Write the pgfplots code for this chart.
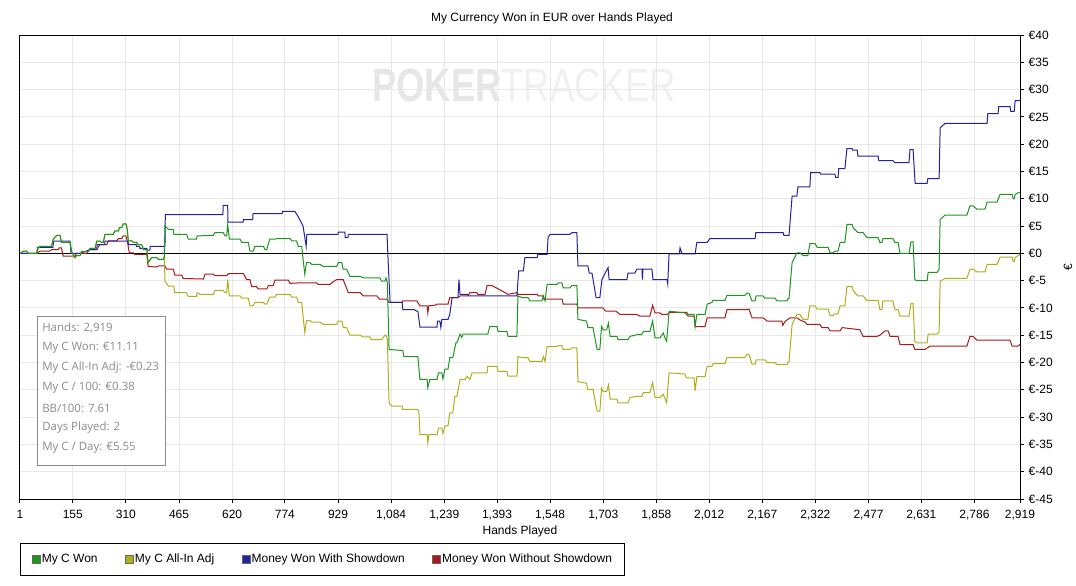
\documentclass[border=0pt]{standalone}
\usepackage{pgfplots}
\pgfplotsset{compat=1.18}
\usepackage{fontspec}
\setmainfont{Liberation Sans}
\newfontfamily\statsfont{Open Sans}
\definecolor{cgreen}{RGB}{30,150,30}
\definecolor{colive}{RGB}{175,175,30}
\definecolor{cblue}{RGB}{35,35,160}
\definecolor{cred}{RGB}{170,25,25}
\definecolor{gridc}{RGB}{232,232,232}
\definecolor{wm1}{RGB}{230,230,230}
\definecolor{wm2}{RGB}{240,240,240}
\definecolor{statc}{RGB}{140,140,140}
\begin{document}
\begin{tikzpicture}[x=0.75pt,y=-0.75pt]
\useasboundingbox (0,0) rectangle (1076,586);
% watermark
\node[anchor=west, xscale=0.78, inner sep=0pt] at (372,85) {\fontsize{35}{35}\selectfont{\color{wm1}\bfseries POKER}{\color{wm2}TRACKER}};
\begin{axis}[
  at={(15pt,-374.25pt)}, anchor=south west,
  scale only axis, width=750pt, height=348pt,
  xmin=1, xmax=2919, ymin=-45, ymax=40,
  axis line style={black, line width=0.75pt},
  xtick={1,155,310,465,620,774,929,1084,1239,1393,1548,1703,1858,2012,2167,2322,2477,2631,2786,2919},
  xticklabels={1,155,310,465,620,774,929,{1,084},{1,239},{1,393},{1,548},{1,703},{1,858},{2,012},{2,167},{2,322},{2,477},{2,631},{2,786},{2,919}},
  ytick={-45,-40,...,40},
  yticklabels={€-45,€-40,€-35,€-30,€-25,€-20,€-15,€-10,€-5,€0,€5,€10,€15,€20,€25,€30,€35,€40},
  xtick pos=left, ytick pos=right, yticklabel pos=right,
  tick align=outside, major tick length=3pt,
  tick style={black, line width=0.75pt},
  grid=major, major grid style={draw=gridc, line width=0.75pt},
  tick label style={font=\fontsize{9}{10}\selectfont},
  xticklabel style={yshift=-2pt},
  title={My Currency Won in EUR over Hands Played},
  title style={at={(axis description cs:0.532,1.0388)}, anchor=center, yshift=-6.75pt, font=\fontsize{9}{10}\selectfont},
  xlabel={Hands Played},
  xlabel style={at={(axis description cs:0.5,-0.069)}, anchor=center, font=\fontsize{9}{10}\selectfont},
  ylabel={€},
  ylabel style={at={(axis description cs:1.048,0.5)}, anchor=center, font=\fontsize{9}{10}\selectfont},
  reverse legend,
  legend columns=4,
  legend image code/.code={\filldraw[#1, draw=black!60, line width=0.5pt] (0pt,-3pt) rectangle (6pt,3pt);},
  legend style={at={(axis description cs:0,-0.095)}, anchor=north west, draw=black, line width=0.75pt,
    font=\fontsize{9}{10}\selectfont, inner xsep=8.5pt, inner ysep=5.8pt,
    nodes={inner xsep=1pt},
    /tikz/every even column/.append style={column sep=19.5pt}},
  every axis plot/.append style={line width=0.75pt},
]
\addplot[black, forget plot] coordinates {(1,0) (2919,0)};
\addplot[cred] coordinates {
(1,0) (50,0) (59,0.4) (88,0.4) (93,0.7) (113,0.7) (115,1.0) (122,1.0) (127,-0.5) (161,-0.5) (166,0) (195,0) (205,0.7) (225,0.7) (234,1.6) (254,1.6) (259,2.3) (283,2.3) (288,2.7) (298,2.7) (302,3.2) (310,3.2) (314,2.3) (320,0.1) (332,0.1) (336,-0.2) (371,-0.2) (375,-2.4) (400,-2.5) (405,-2.3) (424,-2.3) (429,-2.9) (448,-2.9) (453,-4.0) (473,-4.0) (477,-4.6) (536,-4.7) (541,-3.8) (565,-3.8) (570,-4.1) (604,-4.1) (609,-3.7) (653,-3.7) (662,-4.8) (672,-4.8) (677,-6.1) (691,-6.1) (696,-6.5) (721,-6.5) (726,-5.9) (740,-5.9) (745,-4.9) (784,-4.9) (789,-5.5) (818,-5.4) (867,-5.4) (871,-5.7) (905,-5.7) (915,-5.2) (925,-4.8) (944,-4.8) (959,-7.2) (993,-7.2) (1003,-7.8) (1042,-7.8) (1051,-8.4) (1071,-8.4) (1078,-9.0) (1116,-9.0) (1118,-8.7) (1159,-8.7) (1168,-9.6) (1189,-9.6) (1191,-10.9) (1194,-9.6) (1212,-9.5) (1218,-9.3) (1250,-9.3) (1255,-8.1) (1279,-8.1) (1285,-7.8) (1308,-7.8) (1314,-7.2) (1334,-7.2) (1337,-7.5) (1358,-7.5) (1364,-5.9) (1378,-5.9) (1399,-6.6) (1425,-7.5) (1451,-7.2) (1454,-7.5) (1510,-7.5) (1513,-7.8) (1527,-7.8) (1530,-8.4) (1583,-8.4) (1586,-9.3) (1626,-9.3) (1629,-10.0) (1702,-10.0) (1710,-10.6) (1740,-10.6) (1752,-11.2) (1801,-11.2) (1810,-11.5) (1839,-11.5) (1847,-9.5) (1854,-10.9) (1868,-10.9) (1874,-11.2) (1889,-11.2) (1898,-10.8) (1947,-10.8) (1950,-11.5) (1968,-11.5) (1971,-13.4) (2000,-13.4) (2006,-11.8) (2058,-11.8) (2064,-10.3) (2122,-10.3) (2128,-10.2) (2137,-11.8) (2169,-11.8) (2181,-12.4) (2224,-12.4) (2227,-13.2) (2233,-12.5) (2248,-11.8) (2268,-11.8) (2277,-12.2) (2292,-12.6) (2297,-13.0) (2335,-13.0) (2341,-13.6) (2359,-13.6) (2365,-14.2) (2394,-14.2) (2400,-13.6) (2452,-14.0) (2461,-15.2) (2502,-15.2) (2510,-15.0) (2525,-14.2) (2534,-14.2) (2540,-15.2) (2563,-15.2) (2569,-16.7) (2607,-16.7) (2612,-17.6) (2642,-17.6) (2656,-17.0) (2764,-17.0) (2773,-15.2) (2782,-15.2) (2793,-15.9) (2890,-15.9) (2896,-17.0) (2913,-17.0) (2919,-16.7)
};
\addlegendentry{Money Won Without Showdown}
\addplot[cblue] coordinates {
(1,0) (50,0) (52,1.1) (97,1.1) (99,2.25) (147,2.25) (150,0) (176,0) (190,0.3) (205,0.7) (225,0.7) (226,1.6) (248,1.6) (249,2.25) (316,2.25) (318,1.6) (340,1.6) (341,1.3) (350,1.3) (351,0.9) (371,0.9) (373,0.6) (380,0.6) (381,1.3) (424,1.3) (425,7.1) (593,7.1) (594,8.8) (607,8.8) (608,5.7) (652,5.7) (653,6.2) (680,6.2) (681,7.3) (766,7.3) (767,7.7) (803,7.7) (812,6.8) (827,5.0) (836,1.3) (838,3.5) (929,3.5) (930,3.9) (949,3.9) (950,2.9) (958,2.9) (959,3.5) (1072,3.5) (1075,-1.1) (1081,-9.0) (1116,-9.0) (1118,-10.3) (1151,-10.3) (1159,-10.6) (1162,-10.6) (1168,-13.5) (1218,-13.5) (1219,-12.4) (1226,-12.4) (1229,-13.6) (1232,-12.1) (1250,-12.1) (1255,-11.2) (1262,-8.1) (1279,-8.1) (1282,-4.8) (1285,-7.5) (1308,-7.5) (1310,-7.8) (1451,-7.8) (1456,-3.2) (1470,-3.2) (1474,-0.8) (1510,-0.8) (1512,-0.2) (1539,-0.2) (1542,2.9) (1548,3.5) (1606,3.5) (1612,3.8) (1626,3.8) (1629,-2.3) (1658,-2.3) (1662,-3.6) (1670,-3.6) (1682,-8.1) (1693,-8.1) (1699,-4.8) (1717,-2.6) (1720,-4.8) (1772,-4.8) (1775,-3.6) (1795,-3.6) (1801,-2.9) (1816,-2.9) (1817,-4.8) (1819,-2.9) (1845,-2.9) (1848,-4.8) (1889,-4.8) (1891,-5.6) (1895,-0.1) (1925,-0.1) (1927,1.0) (1933,-0.1) (1971,-0.1) (1976,2.0) (2006,2.0) (2014,2.7) (2146,2.7) (2148,3.8) (2228,3.8) (2230,3.3) (2245,3.3) (2254,10.5) (2268,10.5) (2271,12.2) (2306,12.2) (2308,14.8) (2335,14.8) (2337,14.5) (2379,14.5) (2381,13.9) (2388,13.9) (2390,15.5) (2408,15.5) (2414,19.2) (2429,19.2) (2431,18.9) (2444,18.9) (2446,17.8) (2505,17.8) (2507,17.0) (2548,17.0) (2554,16.6) (2595,16.6) (2598,19.0) (2607,19.0) (2613,12.8) (2648,12.8) (2650,13.7) (2683,13.7) (2686,23.0) (2700,23.8) (2823,23.8) (2825,25.6) (2855,25.6) (2857,26.9) (2890,26.9) (2892,26.0) (2902,26.0) (2905,28.0) (2919,28.0)
};
\addlegendentry{Money Won With Showdown}
\addplot[colive] coordinates {
(1,0) (11,0.4) (20,0.4) (25,0) (50,0) (54,1.0) (59,1.3) (93,1.3) (98,2.6) (108,3.3) (118,3.3) (122,2.0) (147,2.0) (152,0.3) (161,-0.8) (166,-0.4) (176,-0.4) (181,0.3) (200,0.3) (205,0.9) (220,0.9) (225,2.25) (234,2.25) (239,2.0) (244,2.0) (249,3.5) (273,3.5) (278,4.1) (288,4.1) (291,4.7) (298,4.7) (302,5.4) (310,5.4) (314,4.4) (317,2.3) (327,2.3) (332,2.0) (341,2.0) (346,1.6) (356,1.6) (361,0.7) (371,0.7) (375,-1.7) (385,-0.8) (400,-0.8) (405,-1.1) (419,-1.1) (422,-0.6)
(424,-5.1) (434,-6.0) (450,-6.0) (452,-7.2) (487,-7.2) (492,-7.9) (516,-7.9) (518,-7.2) (526,-7.5) (565,-7.5) (570,-6.8) (594,-6.8) (599,-7.2) (604,-7.2) (607,-4.8) (612,-7.8) (643,-7.8) (648,-8.2) (667,-8.2) (672,-9.6) (681,-9.6) (687,-9.0) (711,-9.0) (716,-9.3) (721,-9.3) (730,-8.0) (745,-8.0) (750,-7.5) (789,-7.5) (794,-8.0) (808,-8.0) (813,-9.0) (823,-9.0) (826,-10.9) (832,-14.5) (837,-12.3) (847,-12.3) (852,-12.6) (876,-12.6) (886,-13.0) (925,-13.0) (930,-12.4) (940,-12.4) (944,-13.6) (954,-13.6) (964,-15.0) (993,-15.0) (1003,-15.3) (1022,-15.3) (1026,-15.8) (1056,-15.8) (1066,-15.0) (1069,-15.0) (1073,-15.8) (1078,-27.4) (1086,-28.0) (1116,-28.0) (1118,-28.6) (1162,-28.6) (1165,-29.0) (1168,-33.2) (1189,-33.2) (1191,-34.7) (1194,-33.2) (1218,-33.2) (1222,-32.0) (1232,-32.0) (1235,-33.0) (1241,-31.6) (1250,-31.6) (1255,-29.2) (1264,-29.2) (1270,-26.2) (1276,-26.2) (1285,-23.1) (1300,-23.1) (1305,-22.5) (1314,-23.1) (1320,-21.9) (1364,-21.9) (1366,-20.7) (1393,-20.7) (1396,-21.6) (1422,-21.6) (1425,-22.5) (1451,-22.5) (1452,-21.9) (1454,-18.9) (1466,-19.1) (1483,-19.1) (1489,-19.8) (1524,-19.8) (1528,-18.9) (1533,-19.8) (1539,-17.1) (1568,-17.1) (1572,-16.9) (1582,-16.9) (1586,-17.6) (1606,-17.6) (1611,-17.3) (1626,-17.3) (1629,-23.5) (1654,-23.8) (1658,-24.9) (1673,-24.9) (1685,-28.9) (1693,-28.9) (1698,-24.7) (1703,-25.3) (1713,-25.3) (1718,-24.1) (1723,-26.7) (1743,-26.7) (1746,-27.4) (1775,-27.4) (1781,-26.4) (1801,-26.2) (1815,-26.2) (1820,-25.5) (1839,-25.5) (1847,-23.7) (1854,-26.4) (1868,-26.4) (1878,-25.8) (1883,-26.6) (1888,-27.4) (1895,-21.9) (1941,-22.1) (1946,-22.8) (1968,-22.8) (1971,-25.2) (1976,-22.6) (2000,-22.6) (2006,-20.7) (2020,-20.7) (2023,-20.2) (2058,-20.2) (2064,-19.1) (2116,-19.1) (2122,-18.5) (2128,-18.5) (2137,-20.3) (2146,-20.3) (2149,-19.5) (2175,-19.5) (2181,-20.0) (2204,-20.0) (2210,-20.4) (2239,-20.4) (2242,-19.9) (2245,-19.9) (2254,-13.0) (2268,-11.2) (2277,-11.2) (2286,-12.1) (2300,-12.1) (2306,-9.6) (2321,-9.6) (2327,-10.2) (2359,-10.2) (2365,-11.4) (2373,-11.4) (2379,-11.1) (2388,-11.1) (2394,-9.6) (2408,-9.6) (2414,-6.1) (2429,-6.1) (2432,-6.8) (2446,-7.8) (2461,-7.8) (2472,-8.6) (2505,-8.6) (2510,-10.3) (2516,-10.3) (2519,-8.7) (2548,-8.7) (2554,-10.3) (2563,-10.3) (2569,-11.5) (2595,-11.5) (2601,-9.2) (2607,-9.2) (2612,-16.1) (2618,-16.4) (2648,-16.4) (2651,-14.8) (2677,-14.8) (2683,-14.4) (2686,-5.1) (2700,-4.6) (2764,-4.6) (2773,-2.9) (2782,-2.9) (2793,-3.4) (2817,-3.4) (2823,-2.0) (2852,-2.0) (2861,-0.7) (2896,-0.7) (2899,-1.5) (2902,-1.5) (2905,-0.8) (2913,-0.4) (2919,-0.23)
};
\addlegendentry{My C All-In Adj}
\addplot[cgreen] coordinates {
(1,0) (11,0.4) (20,0.4) (25,0) (50,0) (54,1.0) (59,1.3) (93,1.3) (98,2.6) (108,3.3) (118,3.3) (122,2.0) (147,2.0) (152,0.3) (161,-0.8) (166,-0.4) (176,-0.4) (181,0.3) (200,0.3) (205,0.9) (220,0.9) (225,2.25) (234,2.25) (239,2.0) (244,2.0) (249,3.5) (273,3.5) (278,4.1) (288,4.1) (291,4.7) (298,4.7) (302,5.4) (310,5.4) (314,4.4) (317,2.3) (327,2.3) (332,2.0) (341,2.0) (346,1.6) (356,1.6) (361,0.7) (371,0.7) (375,-1.7) (385,-0.8) (400,-0.8) (405,-1.1) (419,-1.1) (422,-0.6) (424,5.0) (434,4.4) (448,4.4) (450,3.5) (487,3.5) (492,2.6) (516,2.6) (518,3.2) (565,3.3) (570,3.8) (594,3.8) (599,3.2) (604,3.2) (607,5.3) (612,2.6) (643,2.6) (648,2.0) (667,2.0) (672,0.4) (681,0.4) (687,1.3) (711,1.3) (716,0.7) (721,0.7) (730,2.6) (745,2.6) (750,2.7) (789,2.7) (794,2.3) (808,2.3) (813,1.3) (823,1.3) (826,-0.5) (832,-3.8) (837,-1.7) (847,-1.7) (852,-2.0) (876,-2.0) (886,-2.4) (925,-2.4) (930,-1.7) (940,-1.7) (944,-2.9) (954,-2.9) (964,-4.2) (993,-4.2) (1003,-4.5) (1051,-4.5) (1056,-5.1) (1066,-5.1) (1069,-4.5) (1073,-5.4) (1078,-17.6) (1118,-17.8) (1121,-18.9) (1162,-18.9) (1168,-23.1) (1189,-23.1) (1191,-24.6) (1197,-23.1) (1218,-23.1) (1222,-21.9) (1232,-21.9) (1235,-23.0) (1241,-21.2) (1250,-21.2) (1255,-19.1) (1264,-19.1) (1273,-16.4) (1276,-16.4) (1285,-14.8) (1290,-15.4) (1294,-14.8) (1366,-14.8) (1372,-13.4) (1393,-13.4) (1396,-14.3) (1422,-14.3) (1425,-15.2) (1451,-15.2) (1454,-7.8) (1466,-8.1) (1483,-8.1) (1489,-8.7) (1524,-8.7) (1528,-7.8) (1533,-8.7) (1539,-5.7) (1568,-5.7) (1572,-5.4) (1582,-5.4) (1586,-6.3) (1606,-6.3) (1611,-5.9) (1626,-5.9) (1629,-12.1) (1654,-12.4) (1658,-13.6) (1673,-13.6) (1685,-17.6) (1693,-17.6) (1698,-13.4) (1703,-14.0) (1713,-14.0) (1718,-12.8) (1723,-15.2) (1743,-15.2) (1746,-15.8) (1775,-15.8) (1781,-15.2) (1801,-14.9) (1815,-14.9) (1820,-14.3) (1839,-14.3) (1847,-12.4) (1854,-15.5) (1868,-15.5) (1878,-14.6) (1883,-15.5) (1888,-16.1) (1895,-10.6) (1941,-10.9) (1946,-11.2) (1968,-11.2) (1971,-13.4) (1976,-11.2) (2000,-11.2) (2006,-9.3) (2020,-9.0) (2023,-8.6) (2058,-8.6) (2064,-7.7) (2116,-7.7) (2122,-7.3) (2128,-7.3) (2137,-8.7) (2146,-8.7) (2149,-7.8) (2169,-7.8) (2175,-8.2) (2204,-8.2) (2210,-8.7) (2239,-8.7) (2242,-8.3) (2245,-8.3) (2254,-1.7) (2268,0.1) (2277,0.1) (2286,-0.4) (2300,-0.4) (2306,1.8) (2321,1.8) (2327,1.1) (2359,1.1) (2365,0.1) (2373,0.1) (2379,0.4) (2388,0.4) (2394,2.0) (2408,2.0) (2414,5.3) (2429,5.3) (2432,4.7) (2446,3.8) (2461,3.8) (2472,2.9) (2505,2.9) (2510,2.0) (2516,2.0) (2519,2.7) (2548,2.7) (2554,2.0) (2563,2.0) (2569,0) (2595,0) (2601,2.1) (2607,2.1) (2612,-4.8) (2618,-5.0) (2648,-5.0) (2651,-3.5) (2677,-3.5) (2683,-2.9) (2686,6.2) (2700,7.0) (2764,7.0) (2773,8.7) (2782,8.7) (2793,8.1) (2817,8.1) (2823,9.4) (2852,9.4) (2861,10.8) (2896,10.8) (2899,10.0) (2902,10.0) (2905,10.8) (2913,11.1) (2919,11.11)
};
\addlegendentry{My C Won}
\end{axis}
% stats box
\filldraw[draw=statc, fill=white, line width=0.75pt] (37,316) rectangle (165,465);
\begin{scope}[every node/.style={anchor=west, inner sep=0pt, text=statc, font=\statsfont\fontsize{8.6}{9}\selectfont}]
\node at (42,328) {Hands: 2,919};
\node at (42,348) {My C Won: €11.11};
\node at (42,368) {My C All-In Adj: -€0.23};
\node at (42,388) {My C / 100: €0.38};
\node at (42,408) {BB/100: 7.61};
\node at (42,428) {Days Played: 2};
\node at (42,448) {My C / Day: €5.55};
\end{scope}
\end{tikzpicture}
\end{document}
